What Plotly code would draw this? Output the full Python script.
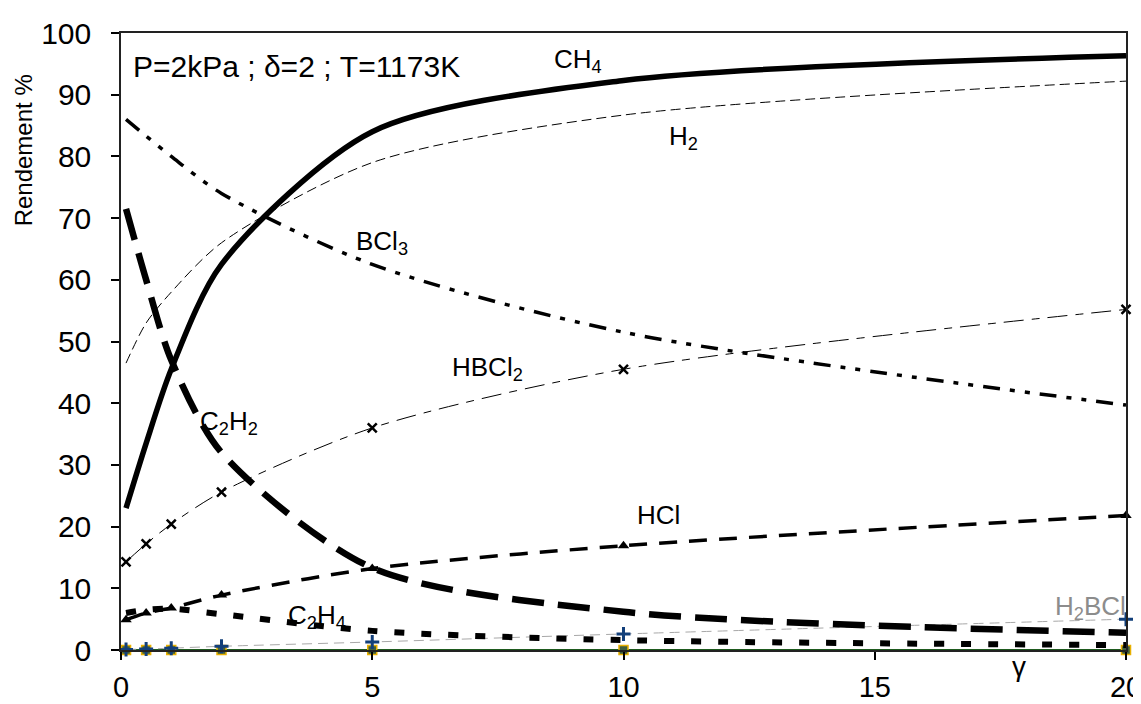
import plotly.graph_objects as go

gamma = [0.1, 0.5, 1, 2, 5, 10, 20]
ch4 = [23.0, 33.5, 45.5, 62.5, 84.0, 92.3, 96.3]
h2 = [46.5, 53.0, 58.0, 66.0, 79.0, 86.7, 92.2]
bcl3 = [86.0, 83.3, 80.0, 74.0, 62.5, 51.5, 39.7]
c2h2 = [71.5, 60.0, 47.0, 32.0, 13.3, 6.2, 2.8]
hbcl2 = [14.3, 17.2, 20.4, 25.6, 36.0, 45.5, 55.2]
hcl = [4.9, 6.0, 6.8, 8.9, 13.2, 16.9, 21.8]
c2h4 = [6.0, 6.5, 6.7, 5.8, 3.1, 1.6, 0.8]
h2bcl = [0.1, 0.15, 0.3, 0.6, 1.3, 2.6, 5.0]
others = [0, 0, 0, 0, 0, 0, 0]

x_ticks = [0, 5, 10, 15, 20]
y_ticks = [0, 10, 20, 30, 40, 50, 60, 70, 80, 90, 100]

REG = "Liberation Sans"

fig = go.Figure()

def add(y, width, dash, color="black", mode="lines", marker=None):
    fig.add_trace(go.Scatter(
        x=gamma, y=y, mode=mode, showlegend=False, cliponaxis=False,
        line=dict(color=color, width=width, dash=dash, shape="spline", smoothing=0.8),
        marker=marker or {}, hoverinfo="x+y"))

add(others, 2, "solid", color="#1e5a1e", mode="lines+markers",
    marker=dict(symbol="square", size=9, color="#3f5f3f",
                line=dict(color="#e8b000", width=1.5)))
add(h2bcl, 1, "10px,6px", color="#a8a8a8", mode="lines+markers",
    marker=dict(symbol="cross-thin", size=10, color="#123f7a",
                line=dict(color="#123f7a", width=3)))
add(c2h4, 6, "10px,17px")
add(hcl, 3.5, "18px,12px", mode="lines+markers",
    marker=dict(symbol="triangle-up", size=10, color="black"))
add(c2h2, 6.5, "32px,14px")
add(hbcl2, 1, "20px,8px,8px,8px", mode="lines+markers",
    marker=dict(symbol="x-thin", size=9, color="black",
                line=dict(color="black", width=2.5)))
add(bcl3, 3.5, "17px,10px,5px,10px,5px,10px")
add(h2, 1, "10px,5px")
add(ch4, 5.5, "solid")

labels = [
    ("CH<sub>4</sub>", 9.1, 95.6, "black"),
    ("H<sub>2</sub>", 11.2, 83.0, "black"),
    ("BCl<sub>3</sub>", 5.2, 66.0, "black"),
    ("HBCl<sub>2</sub>", 7.3, 45.6, "black"),
    ("C<sub>2</sub>H<sub>2</sub>", 2.15, 36.8, "black"),
    ("C<sub>2</sub>H<sub>4</sub>", 3.9, 5.4, "black"),
    ("HCl", 10.7, 21.9, "black"),
    ("H<sub>2</sub>BCl", 19.3, 6.9, "#8c8c8c"),
]
for txt, lx, ly, col in labels:
    fig.add_annotation(x=lx, y=ly, text=txt, showarrow=False, xref="x", yref="y",
                       xanchor="center", yanchor="middle",
                       font=dict(family=REG, size=26, color=col))

fig.add_annotation(x=0.2, y=94.5, text="P=2kPa ; δ=2 ; T=1173K", showarrow=False,
                   xanchor="left", yanchor="middle", xref="x", yref="y",
                   font=dict(family=REG, size=30, color="black"))
fig.add_annotation(x=0.894, y=-0.026, text="γ", showarrow=False, xref="paper", yref="paper",
                   xanchor="center", yanchor="middle",
                   font=dict(family=REG, size=28, color="black"))
fig.add_annotation(x=-0.097, y=0.809, text="Rendement %", showarrow=False, textangle=-90,
                   xref="paper", yref="paper", xanchor="center", yanchor="middle",
                   font=dict(family=REG, size=24, color="black"))

fig.update_layout(
    width=1141, height=704,
    margin=dict(l=113, r=23, t=25, b=62),
    paper_bgcolor="white", plot_bgcolor="white",
    font=dict(family=REG, color="black"),
    xaxis=dict(range=[0, 20], tickvals=x_ticks, showgrid=False, zeroline=False,
               showline=True, linecolor="#222", linewidth=1.5, mirror=True,
               ticks="outside", ticklen=8, tickcolor="black", tickwidth=1.5,
               ticklabelstandoff=2, tickfont=dict(size=29, family=REG),
               automargin=False),
    yaxis=dict(range=[0, 100], tickvals=y_ticks, showgrid=False, zeroline=False,
               showline=True, linecolor="#222", linewidth=1.5, mirror=True,
               ticks="outside", ticklen=8, tickcolor="black", tickwidth=1.5,
               ticklabelstandoff=14, tickfont=dict(size=30, family=REG),
               automargin=False),
)

fig.write_html("out.html")
